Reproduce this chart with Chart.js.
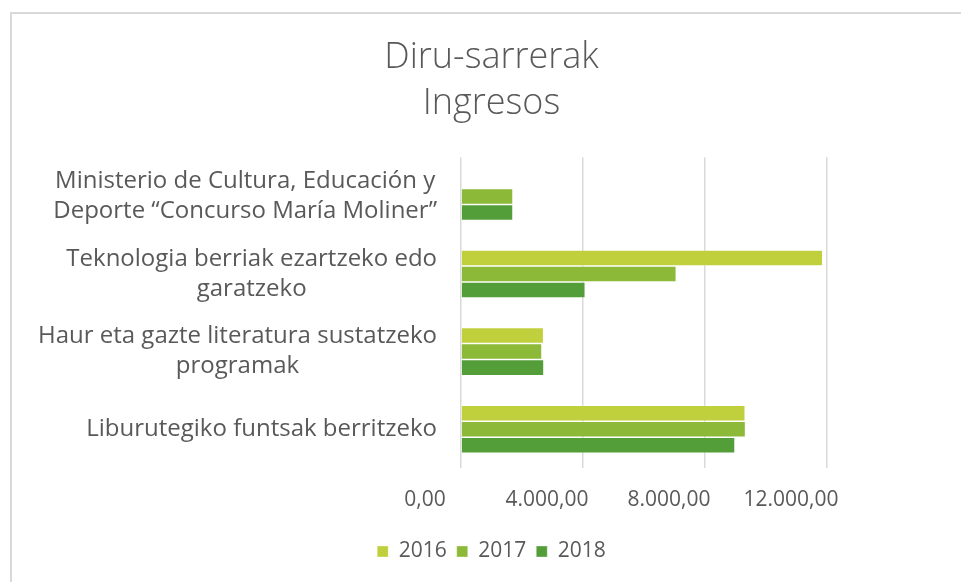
<!DOCTYPE html>
<html>
<head>
<meta charset="utf-8">
<script src="https://cdn.jsdelivr.net/npm/chart.js@4"></script>
<style>
  html, body { margin: 0; padding: 0; background: #ffffff; }
  #wrap { position: relative; width: 961px; height: 582px; }
</style>
</head>
<body>
<div id="wrap"><canvas id="chart" width="961" height="582"></canvas></div>
<script>
// Income by programme, three years
const categories = [
  ["Ministerio de Cultura, Educación y", "Deporte “Concurso María Moliner”"],
  ["Teknologia berriak ezartzeko edo", "garatzeko"],
  ["Haur eta gazte literatura sustatzeko", "programak"],
  ["Liburutegiko funtsak berritzeko"]
];
const years = ["2016", "2017", "2018"];
const values2016 = [null, 11860, 2710, 9320];
const values2017 = [1705, 7060, 2655, 9330];
const values2018 = [1705, 4075, 2720, 8985];
const xTicks = [0, 4000, 8000, 12000];
const titleLines = ["Diru-sarrerak", "Ingresos"];

const TEXT = "#595959";
const FONT = '"Open Sans", "DejaVu Sans", sans-serif';

function fmt(v) {
  const parts = Math.abs(v).toFixed(2).split(".");
  const int = parts[0].replace(/\B(?=(\d{3})+(?!\d))/g, ".");
  return (v < 0 ? "-" : "") + int + "," + parts[1];
}

// White page with the light frame on the top and left edges
const frame = {
  id: "frame",
  beforeDraw(chart) {
    const ctx = chart.ctx;
    ctx.save();
    ctx.fillStyle = "#ffffff";
    ctx.fillRect(0, 0, chart.width, chart.height);
    ctx.strokeStyle = "#d9d9d9";
    ctx.lineWidth = 2;
    ctx.beginPath();
    ctx.moveTo(11, chart.height);
    ctx.lineTo(11, 13);
    ctx.lineTo(chart.width, 13);
    ctx.stroke();
    ctx.restore();
  }
};

// Category names: each block right-aligned to the axis, lines centred within the block
const blockLabels = {
  id: "blockLabels",
  afterDraw(chart) {
    const ctx = chart.ctx;
    const yScale = chart.scales.y;
    const right = chart.chartArea.left - 24;
    const lh = 30;
    ctx.save();
    ctx.font = "24px " + FONT;
    ctx.fillStyle = TEXT;
    ctx.textAlign = "center";
    ctx.textBaseline = "middle";
    categories.forEach((lines, i) => {
      const y = yScale.getPixelForTick(i);
      const w = Math.max(...lines.map(l => ctx.measureText(l).width));
      const cx = right - w / 2;
      lines.forEach((l, j) => {
        ctx.fillText(l, cx, y + (j - (lines.length - 1) / 2) * lh);
      });
    });
    ctx.restore();
  }
};

const colors = ["#c0d03c", "#8cb937", "#549e3a"];
const series = [values2016, values2017, values2018];

new Chart(document.getElementById("chart"), {
  type: "bar",
  data: {
    labels: categories,
    datasets: years.map((y, k) => ({
      label: y,
      data: series[k],
      backgroundColor: colors[k],
      borderColor: "rgba(255,255,255,0.45)",
      borderWidth: 0.75,
      categoryPercentage: 0.62,
      barPercentage: 1.0
    }))
  },
  options: {
    indexAxis: "y",
    responsive: false,
    animation: false,
    layout: { padding: { top: 22, left: 22, right: 0, bottom: 10 } },
    plugins: {
      title: {
        display: true,
        text: titleLines,
        color: TEXT,
        font: { family: FONT, size: 36, weight: 300, lineHeight: 1.3 },
        padding: { top: 12, bottom: 30 }
      },
      legend: {
        position: "bottom",
        labels: {
          color: TEXT,
          font: { family: FONT, size: 21 },
          boxWidth: 11,
          boxHeight: 11,
          padding: 10
        }
      },
      tooltip: { enabled: false }
    },
    scales: {
      x: {
        min: 0,
        max: 12000,
        afterBuildTicks(scale) { scale.ticks = xTicks.map(v => ({ value: v })); },
        afterFit(scale) { scale.height = 63; },
        ticks: {
          color: TEXT,
          font: { family: FONT, size: 21 },
          padding: 19,
          labelOffset: -36,
          maxRotation: 0,
          callback: v => fmt(v)
        },
        grid: { color: "#d9d9d9", lineWidth: 1.5, drawTicks: false },
        border: { display: false }
      },
      y: {
        type: "category",
        afterFit(scale) { scale.width = 439; },
        ticks: { display: false },
        grid: { display: false },
        border: { display: false }
      },
      y2: {
        type: "linear",
        position: "right",
        afterFit(scale) { scale.width = 134; },
        ticks: { display: false },
        grid: { display: false },
        border: { display: false }
      }
    }
  },
  plugins: [frame, blockLabels]
});
</script>
</body>
</html>
